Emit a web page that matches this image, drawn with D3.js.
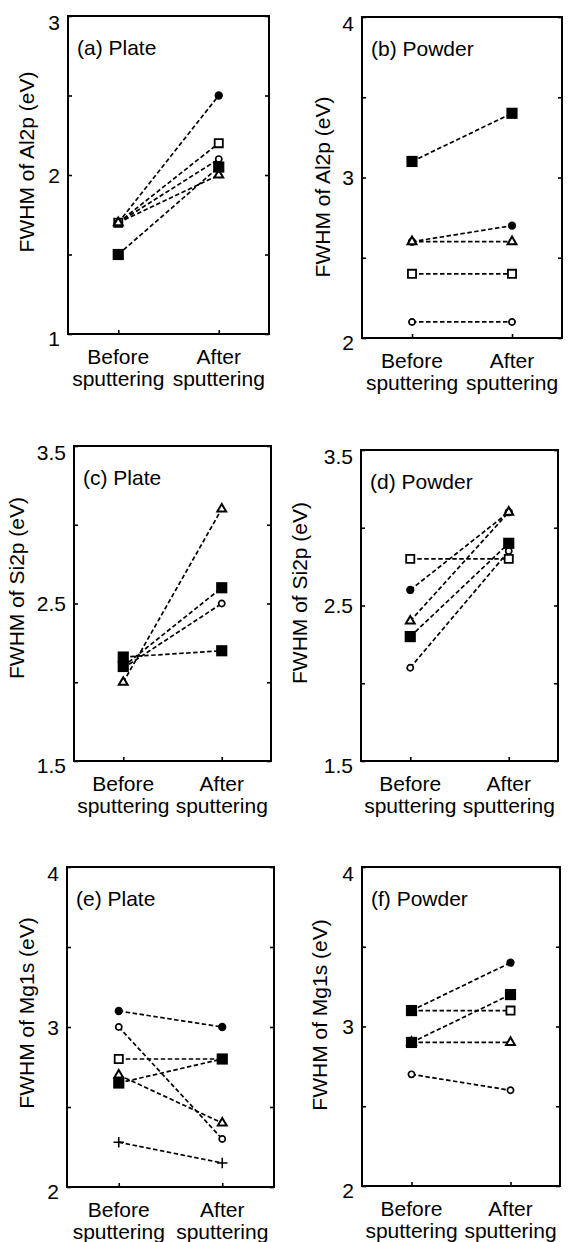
<!DOCTYPE html>
<html>
<head>
<meta charset="utf-8">
<script src="https://cdn.jsdelivr.net/npm/d3@7"></script>
<style>
  body { margin: 0; background: #fff; }
  text { font-family: "Liberation Sans", Arial, Helvetica, sans-serif; fill: #000; }
</style>
</head>
<body>
<div id="chart"></div>
<script>
//DATA
let xCats = ["Before", "After"];
let xTickLines = [["Before", "sputtering"], ["After", "sputtering"]];

let panelTitles = ["(a) Plate", "(b) Powder", "(c) Plate", "(d) Powder", "(e) Plate", "(f) Powder"];
let yTitles = ["FWHM of Al2p (eV)", "FWHM of Al2p (eV)", "FWHM of Si2p (eV)",
               "FWHM of Si2p (eV)", "FWHM of Mg1s (eV)", "FWHM of Mg1s (eV)"];
let yDomains = [[1, 3], [2, 4], [1.5, 3.5], [1.5, 3.5], [2, 4], [2, 4]];
let yTickValues = [[1, 1.5, 2, 2.5, 3], [2, 2.5, 3, 3.5, 4], [1.5, 2, 2.5, 3, 3.5],
                   [1.5, 2, 2.5, 3, 3.5], [2, 2.5, 3, 3.5, 4], [2, 2.5, 3, 3.5, 4]];
let yTickLabels = [[1, 2, 3], [2, 3, 4], [1.5, 2.5, 3.5], [1.5, 2.5, 3.5], [2, 3, 4], [2, 3, 4]];

// (a) Plate, Al2p
let symA = ["fcirc", "osq", "ocirc", "tri", "fsq"];
let beforeA = [1.7, 1.7, 1.7, 1.7, 1.5];
let afterA = [2.5, 2.2, 2.1, 2.0, 2.05];
// (b) Powder, Al2p
let symB = ["fsq", "fcirc", "tri", "osq", "ocirc"];
let beforeB = [3.1, 2.6, 2.6, 2.4, 2.1];
let afterB = [3.4, 2.7, 2.6, 2.4, 2.1];
// (c) Plate, Si2p
let symC = ["ocirc", "tri", "fsq", "fsq"];
let beforeC = [2.09, 2.0, 2.1, 2.16];
let afterC = [2.5, 3.1, 2.6, 2.2];
// (d) Powder, Si2p
let symD = ["ocirc", "fcirc", "osq", "tri", "fsq"];
let beforeD = [2.1, 2.6, 2.8, 2.4, 2.3];
let afterD = [2.85, 3.1, 2.8, 3.1, 2.9];
// (e) Plate, Mg1s
let symE = ["fcirc", "ocirc", "osq", "fsq", "tri", "plus"];
let beforeE = [3.1, 3.0, 2.8, 2.65, 2.7, 2.28];
let afterE = [3.0, 2.3, 2.8, 2.8, 2.4, 2.15];
// (f) Powder, Mg1s
let symF = ["osq", ["fsq", "fcirc"], "tri", "fsq", "ocirc"];
let beforeF = [3.1, 3.1, 2.9, 2.9, 2.7];
let afterF = [3.1, 3.4, 2.9, 3.2, 2.6];

let panelSyms = [symA, symB, symC, symD, symE, symF];
let panelBefore = [beforeA, beforeB, beforeC, beforeD, beforeE, beforeF];
let panelAfter = [afterA, afterB, afterC, afterD, afterE, afterF];

//LAYOUT
let w = 568, h = 1242;
let frames = [
  {x0: 68, x1: 269, y0: 16, y1: 334},
  {x0: 362, x1: 562, y0: 17, y1: 338},
  {x0: 74, x1: 271, y0: 446, y1: 761},
  {x0: 361, x1: 558, y0: 450, y1: 761},
  {x0: 67, x1: 274, y0: 867, y1: 1187},
  {x0: 362, x1: 560, y0: 867, y1: 1186}
];
let yTitlePos = [[27, 162], [323, 187], [17, 588], [300, 593], [27, 1013], [320, 1015]];
let fontSize = 21;

//MARKERS
let plusType = {
  draw: function(ctx, size) {
    let r = Math.sqrt(size) / 2;
    ctx.moveTo(-r, 0); ctx.lineTo(r, 0);
    ctx.moveTo(0, -r); ctx.lineTo(0, r);
  }
};
let markerStyle = {
  fsq:   {type: d3.symbolSquare, size: 125, fill: "#000", stroke: "none", sw: 0},
  osq:   {type: d3.symbolSquare, size: 66, fill: "#fff", stroke: "#000", sw: 1.8},
  fcirc: {type: d3.symbolCircle, size: 54, fill: "#000", stroke: "none", sw: 0},
  ocirc: {type: d3.symbolCircle, size: 30, fill: "#fff", stroke: "#000", sw: 1.7},
  tri:   {type: d3.symbolTriangle, size: 34, fill: "#fff", stroke: "#000", sw: 2},
  plus:  {type: plusType, size: 110, fill: "none", stroke: "#000", sw: 1.6}
};
let symAt = (s, i) => Array.isArray(s) ? s[i] : s;

let svg = d3.select("#chart").append("svg")
    .attr("width", w)
    .attr("height", h);

svg.append("rect").attr("width", w).attr("height", h).attr("fill", "#fff");

frames.forEach(function(f, p) {
  let xScale = d3.scalePoint()
      .domain(xCats)
      .range([f.x0, f.x1])
      .padding(0.5);

  let yScale = d3.scaleLinear()
      .domain(yDomains[p])
      .range([f.y1, f.y0]);

  let g = svg.append("g").attr("class", "panel");

  // axes with inward ticks
  let labelSet = yTickLabels[p];
  let yAxis = d3.axisLeft(yScale)
      .tickValues(yTickValues[p])
      .tickSizeInner(-4)
      .tickSizeOuter(0)
      .tickPadding(8)
      .tickFormat(d => labelSet.indexOf(d) >= 0 ? String(d) : "");
  let yLeft = g.append("g")
      .attr("transform", "translate(" + f.x0 + ",0)")
      .call(yAxis);
  yLeft.selectAll("text")
      .attr("font-size", fontSize)
      .attr("font-family", "Liberation Sans, Arial, sans-serif")
      .attr("dy", function(d) {
        // end labels sit a little below their ticks
        if (d === yDomains[p][1]) return "0.62em";
        if (d === yDomains[p][0]) return "0.55em";
        return "0.34em";
      });

  g.append("g")
      .attr("transform", "translate(" + f.x1 + ",0)")
      .call(d3.axisRight(yScale).tickValues(yTickValues[p]).tickSizeInner(-4).tickSizeOuter(0).tickFormat(""));

  g.append("g")
      .attr("transform", "translate(0," + f.y1 + ")")
      .call(d3.axisBottom(xScale).tickSizeInner(-4).tickSizeOuter(0).tickFormat(""));

  g.selectAll(".domain").remove();
  g.selectAll(".tick line").attr("stroke", "#000").attr("stroke-width", 1.6);

  // frame
  g.append("rect")
      .attr("x", f.x0)
      .attr("y", f.y0)
      .attr("width", f.x1 - f.x0)
      .attr("height", f.y1 - f.y0)
      .attr("fill", "none")
      .attr("stroke", "#000")
      .attr("stroke-width", 2);

  // x tick labels (two lines)
  xCats.forEach(function(c, i) {
    let t = g.append("text")
        .attr("text-anchor", "middle")
        .attr("font-size", fontSize);
    t.append("tspan").attr("x", xScale(c)).attr("y", f.y1 + 30).text(xTickLines[i][0]);
    t.append("tspan").attr("x", xScale(c)).attr("y", f.y1 + 52).text(xTickLines[i][1]);
  });

  // y title
  g.append("text")
      .attr("transform", "translate(" + yTitlePos[p][0] + "," + yTitlePos[p][1] + ") rotate(-90)")
      .attr("text-anchor", "middle")
      .attr("dy", "0.35em")
      .attr("font-size", fontSize)
      .text(yTitles[p]);

  // panel title
  g.append("text")
      .attr("x", f.x0 + 9)
      .attr("y", f.y0 + 39)
      .attr("font-size", fontSize)
      .text(panelTitles[p]);

  // series
  let series = panelSyms[p].map(function(s, i) {
    return {sym: s, values: [panelBefore[p][i], panelAfter[p][i]]};
  });

  let line = d3.line()
      .x((d, i) => xScale(xCats[i]))
      .y(d => yScale(d));

  g.selectAll("path.link")
      .data(series)
      .enter()
      .append("path")
      .attr("class", "link")
      .attr("d", d => line(d.values))
      .attr("fill", "none")
      .attr("stroke", "#000")
      .attr("stroke-width", 1.7)
      .attr("stroke-dasharray", "4.5,2.5");

  series.forEach(function(s) {
    s.values.forEach(function(v, i) {
      let st = markerStyle[symAt(s.sym, i)];
      g.append("path")
          .attr("class", "marker")
          .attr("d", d3.symbol().type(st.type).size(st.size)())
          .attr("transform", "translate(" + xScale(xCats[i]) + "," + yScale(v) + ")")
          .attr("fill", st.fill)
          .attr("stroke", st.stroke)
          .attr("stroke-width", st.sw);
    });
  });
});
</script>
</body>
</html>
